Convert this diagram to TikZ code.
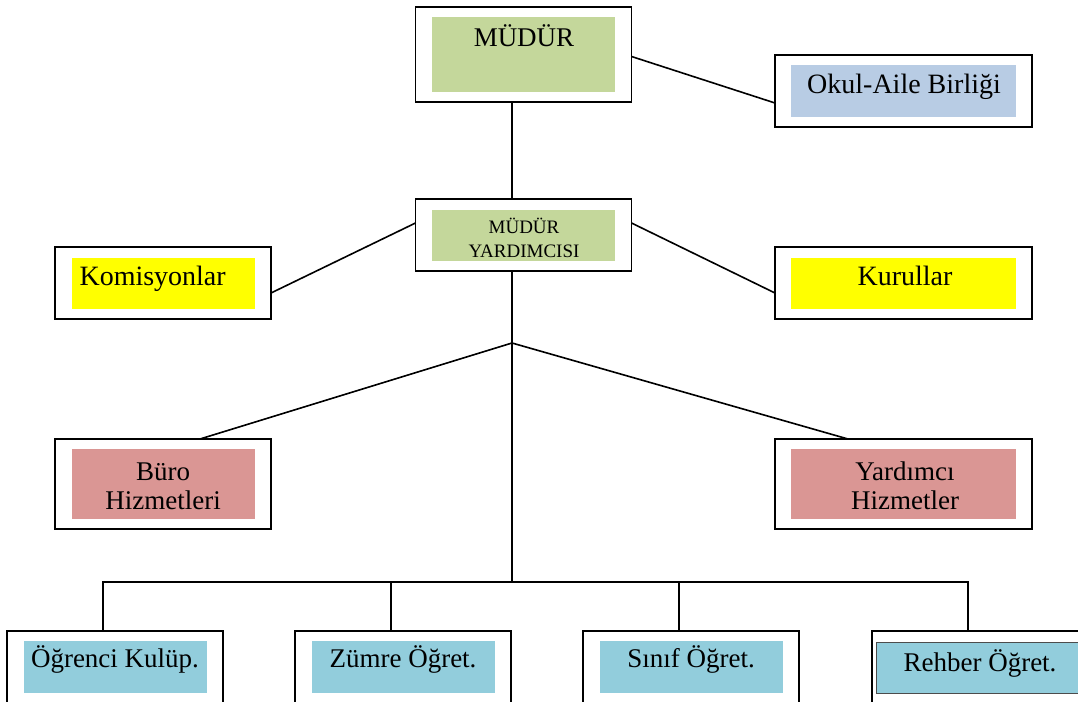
\documentclass[tikz,border=0pt]{standalone}
\usepackage{fontspec}
\setmainfont{Liberation Serif}
\definecolor{mgreen}{RGB}{196,215,155}
\definecolor{mblue}{RGB}{184,204,228}
\definecolor{myellow}{RGB}{255,255,0}
\definecolor{mred}{RGB}{218,150,148}
\definecolor{mcyan}{RGB}{146,205,220}
\begin{document}
\begin{tikzpicture}[x=1pt,y=-1pt,
  box/.style={draw=black,line width=1.8pt,minimum width=216pt,minimum height=72pt,inner sep=0pt,outer sep=0pt},
  pane/.style={inner sep=0pt,minimum width=183pt,minimum height=51pt},
  txt/.style={anchor=base,font=\fontsize{28}{32}\selectfont},
  link/.style={line width=1.6pt}]
\def\dx{11.5pt}
\useasboundingbox (0,0) rectangle (1078,701);
% top
\node[box,minimum height=95pt] (mudur) at (523.5,54.5) {};
\node[pane,fill=mgreen,minimum height=75pt] at (mudur) {};
\node[txt,font=\fontsize{27}{32}\selectfont] at (524,47) {MÜDÜR};
\node[box,minimum width=257pt] (okul) at (903.5,91) {};
\node[pane,fill=mblue,minimum width=225pt] at (okul) {};
\node[txt] at (904,93) {Okul-Aile Birliği};
% second row
\node[box] (myard) at (523.5,235) {};
\node[pane,fill=mgreen] at (myard) {};
\node[align=center,font=\fontsize{19}{24}\selectfont] at (524,238) {MÜDÜR\\YARDIMCISI};
\node[box] (komis) at (163,283) {};
\node[pane,fill=myellow] at (komis) {};
\node[txt,anchor=base west] at (76,285) {Komisyonlar};
\node[box,minimum width=257pt] (kurul) at (903.5,283) {};
\node[pane,fill=myellow,minimum width=225pt] at (kurul) {};
\node[txt] at (905,285) {Kurullar};
% services
\node[box,minimum height=90pt] (buro) at (163,484) {};
\node[pane,fill=mred,minimum height=70pt] at (buro) {};
\node[align=center,font=\fontsize{27}{29}\selectfont] at (163,486) {Büro\\Hizmetleri};
\node[box,minimum width=257pt,minimum height=90pt] (yard) at (903.5,484) {};
\node[pane,fill=mred,minimum width=225pt,minimum height=70pt] at (yard) {};
\node[align=center,font=\fontsize{27}{29}\selectfont] at (905,486) {Yardımcı\\Hizmetler};
% teachers
\foreach \i/\cx/\lbl in {1/115/Öğrenci Kulüp.,2/403/Zümre Öğret.,3/691/Sınıf Öğret.} {
  \node[box] (ob\i) at (\cx,667) {};
  \node[pane,fill=mcyan,minimum height=52pt] at (ob\i) {};
  \node[txt,font=\fontsize{27}{32}\selectfont] at (\cx,667) {\lbl};
}
\node[box] (ob4) at (980,667) {};
\node[pane,fill=mcyan,draw=black!70,line width=0.8pt,minimum width=224pt,minimum height=51pt] at (988,667.5) {};
\node[txt,font=\fontsize{27}{32}\selectfont] at (980,671) {Rehber Öğret.};
% links
\coordinate (split) at (512,343);
\coordinate (bus) at (512,582);
\draw[link] ([xshift=-\dx]mudur.south) -- ([xshift=-\dx]myard.north);
\draw[link] ([yshift=-2pt]mudur.east) -- ([yshift=-12pt]okul.west);
\draw[link] ([yshift=12pt]myard.west) -- ([yshift=-10pt]komis.east);
\draw[link] ([yshift=12pt]myard.east) -- ([yshift=-10pt]kurul.west);
\draw[link] ([xshift=-\dx]myard.south) -- (bus);
\draw[link] (split) -- ([xshift=37pt]buro.north);
\draw[link] (split) -- ([xshift=-55.5pt]yard.north);
\foreach \i in {1,...,4} {
  \draw[link] ([xshift=-12pt]ob\i.north) |- (bus);
}
\end{tikzpicture}
\end{document}
